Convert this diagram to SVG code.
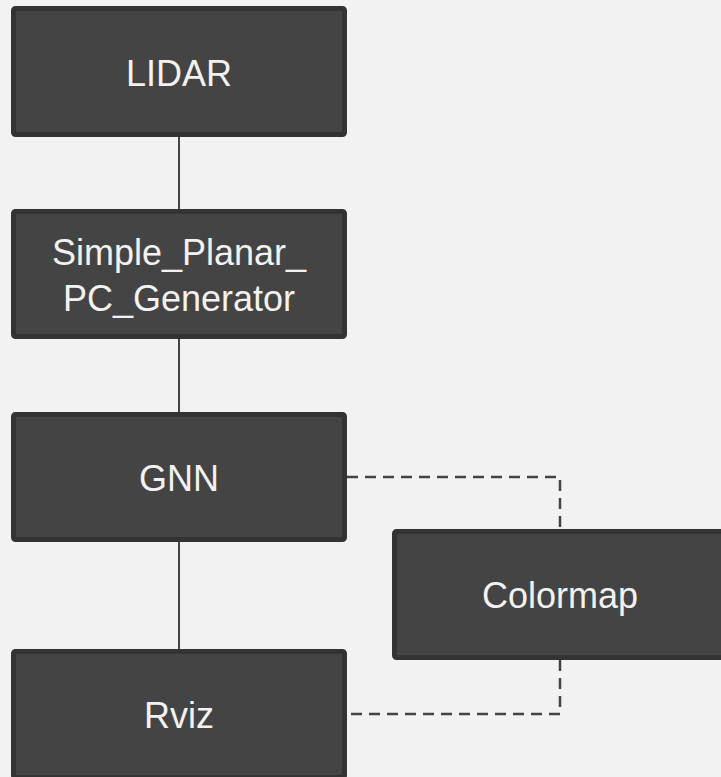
<svg xmlns="http://www.w3.org/2000/svg" width="721" height="777" viewBox="0 0 721 777">
<style>
.box{fill:#444444;stroke:#333333;stroke-width:5}
.lbl{font-family:"Liberation Sans",Arial,sans-serif;font-size:36px;fill:#f2f2f2;text-anchor:middle}
.solid{fill:none;stroke:#444444;stroke-width:2}
.dash{fill:none;stroke:#444444;stroke-width:2.5;stroke-dasharray:11 7}
</style>
<rect x="0" y="0" width="721" height="777" fill="#f2f2f2"/>
<g id="connectors">
<line class="solid" x1="179" y1="137" x2="179" y2="209"/>
<line class="solid" x1="179" y1="339" x2="179" y2="412"/>
<line class="solid" x1="179" y1="542" x2="179" y2="649"/>
<path class="dash" d="M347,477 H560 V529"/>
<path class="dash" d="M560,660 V714 H347"/>
</g>
<g id="lidar">
<rect class="box" x="13.5" y="8.5" width="331" height="126" rx="2"/>
<text class="lbl" x="179" y="86">LIDAR</text>
</g>
<g id="simple_planar">
<rect class="box" x="13.5" y="211.5" width="331" height="125" rx="2"/>
<text class="lbl" x="179" y="265">Simple_Planar_</text>
<text class="lbl" x="179" y="311">PC_Generator</text>
</g>
<g id="gnn">
<rect class="box" x="13.5" y="414.5" width="331" height="125" rx="2"/>
<text class="lbl" x="179" y="491">GNN</text>
</g>
<g id="colormap">
<rect class="box" x="394.5" y="531.5" width="331" height="126" rx="2"/>
<text class="lbl" x="560" y="608">Colormap</text>
</g>
<g id="rviz">
<rect class="box" x="13.5" y="651.5" width="331" height="126" rx="2"/>
<text class="lbl" x="179" y="728">Rviz</text>
</g>
</svg>
